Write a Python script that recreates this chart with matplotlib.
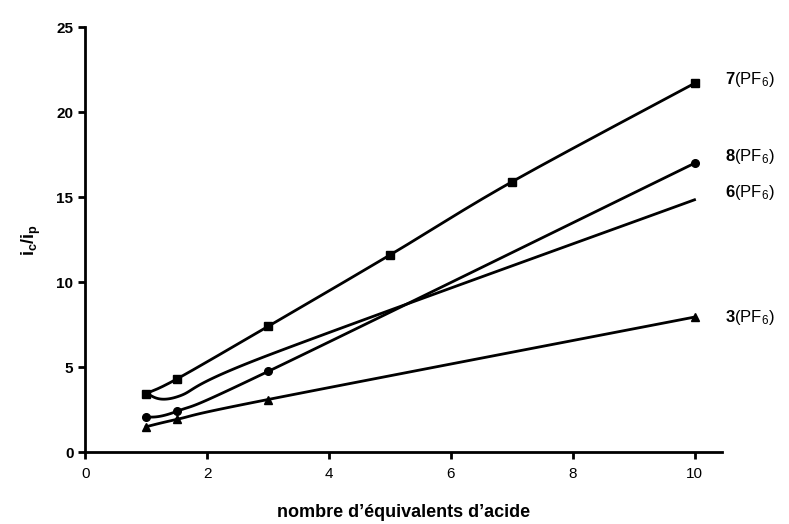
import numpy as np
import matplotlib
matplotlib.use("Agg")
import matplotlib.pyplot as plt

plt.rcParams['font.family'] = ['Liberation Sans', 'DejaVu Sans']
plt.rcParams['mathtext.fontset'] = 'custom'
plt.rcParams['mathtext.rm'] = 'Liberation Sans'
plt.rcParams['mathtext.bf'] = 'Liberation Sans:bold'
plt.rcParams['mathtext.it'] = 'Liberation Sans:italic'

# data
x7 = [1, 1.5, 3, 5, 7, 10]
y7 = [3.45, 4.3, 7.4, 11.6, 15.9, 21.7]
x8 = [1, 1.5, 3, 10]
y8 = [2.05, 2.4, 4.75, 17.0]
x6 = [1, 1.5, 3, 10]
y6 = [3.45, 3.25, 5.7, 14.85]
x3 = [1, 1.5, 3, 10]
y3 = [1.5, 1.93, 3.1, 7.95]
labels = ['7', '8', '6', '3']
label_y = [21.9, 17.4, 15.3, 7.9]


def smooth(xs, ys, n=40):
    # Excel-like smoothed line (cardinal bezier segments)
    xs = np.asarray(xs, float)
    ys = np.asarray(ys, float)
    p = np.column_stack([xs, ys])
    out = []
    for i in range(len(p) - 1):
        p0 = p[i - 1] if i > 0 else p[i]
        p1, p2 = p[i], p[i + 1]
        p3 = p[i + 2] if i + 2 < len(p) else p[i + 1]
        c1 = p1 + (p2 - p0) / 6
        c2 = p2 - (p3 - p1) / 6
        t = np.linspace(0, 1, n)[:, None]
        seg = (1 - t) ** 3 * p1 + 3 * (1 - t) ** 2 * t * c1 + 3 * (1 - t) * t ** 2 * c2 + t ** 3 * p2
        out.append(seg)
    out = np.vstack(out)
    return out[:, 0], out[:, 1]


fig = plt.figure(figsize=(7.89, 5.24), dpi=100)
ax = fig.add_axes([0.108, 0.137, 0.807, 0.811])

series = [(x7, y7, 's'), (x8, y8, 'o'), (x6, y6, None), (x3, y3, '^')]
for xs, ys, m in series:
    sx, sy = smooth(xs, ys)
    ax.plot(sx, sy, color='black', lw=2, clip_on=False)
    if m:
        ax.plot(xs, ys, ls='none', marker=m, color='black', ms=5.5, clip_on=False)

for lab, ly in zip(labels, label_y):
    ax.text(10.5, ly, r'$\mathbf{' + lab + r'}$(PF$_6$)', fontsize=12,
            va='center', ha='left', clip_on=False)

ax.set_xlim(0, 10.45)
ax.set_ylim(0, 25)
ax.set_xticks([0, 2, 4, 6, 8, 10])
ax.set_yticks([0, 5, 10, 15, 20, 25])
for s in ['top', 'right']:
    ax.spines[s].set_visible(False)
for s in ['left', 'bottom']:
    ax.spines[s].set_linewidth(2)
ax.tick_params(direction='out', length=5, width=2, labelsize=11)
ax.tick_params(axis='x', pad=6)
for t in ax.get_yticklabels():
    t.set_fontweight('bold')
for t in ax.get_xticklabels():
    t.set_family(['Liberation Sans Narrow', 'Liberation Sans'])
    t.set_fontsize(11)

ax.set_ylabel(r'$\mathbf{i_c/i_p}$', fontsize=13, labelpad=10)
ax.set_xlabel('nombre d\u2019\u00e9quivalents d\u2019acide', fontsize=13, fontweight='bold',
              family=['Liberation Sans Narrow', 'Liberation Sans'], labelpad=16)

fig.savefig('out.png', dpi=100)
